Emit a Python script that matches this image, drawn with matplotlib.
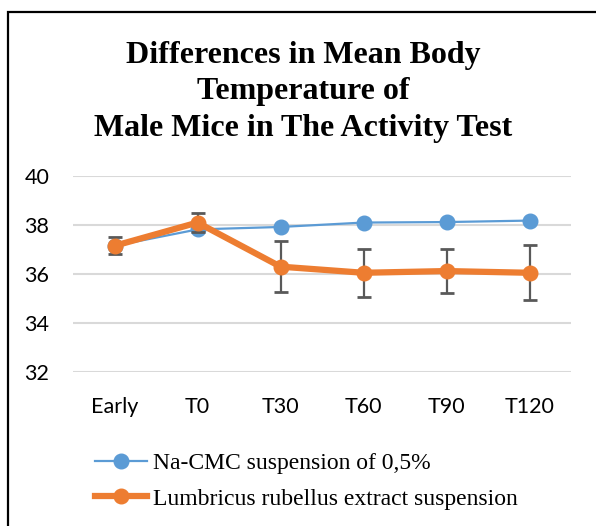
import matplotlib
matplotlib.use("Agg")
import matplotlib.pyplot as plt
from matplotlib.patches import Rectangle
from matplotlib.lines import Line2D

# ===================================== Data
time_points = ["Early", "T0", "T30", "T60", "T90", "T120"]
cmc_mean = [37.15, 37.82, 37.92, 38.10, 38.12, 38.18]
extract_mean = [37.15, 38.10, 36.30, 36.05, 36.12, 36.05]
extract_err = [0.35, 0.38, 1.05, 0.98, 0.88, 1.12]
y_ticks = [32, 34, 36, 38, 40]

cmc_label = "Na-CMC suspension of 0,5%"
extract_label = "Lumbricus rubellus extract suspension"
title = "Differences in Mean Body\nTemperature of\nMale Mice in The Activity Test"

blue = "#5B9BD5"
orange = "#ED7D31"

# ===================================== Plot
W, H = 596, 526
fig = plt.figure(figsize=(W / 100, H / 100), dpi=100)
ax = fig.add_axes([73 / W, 1 - 372 / H, (571 - 73) / W, (372 - 176) / H])

x = list(range(len(time_points)))

ax.plot(x, cmc_mean, color=blue, lw=1.6, marker="o", ms=10.5,
        markerfacecolor=blue, markeredgecolor=blue, zorder=3)
ax.errorbar(x, extract_mean, yerr=extract_err, fmt="none", ecolor="#595959",
            elinewidth=1.6, capsize=5, capthick=2, zorder=4)
ax.plot(x, extract_mean, color=orange, lw=4.5, marker="o", ms=10.5,
        markerfacecolor=orange, markeredgecolor=orange, zorder=5)

ax.set_xlim(-0.5, len(time_points) - 0.5)
ax.set_ylim(32, 40)
ax.set_yticks(y_ticks)
ax.set_xticks(x)
ax.set_xticklabels(time_points)
ax.tick_params(axis="both", length=0, labelsize=15.5, labelcolor="#000000")
ax.tick_params(axis="x", pad=18)
ax.tick_params(axis="y", pad=17)
for lab in ax.get_xticklabels() + ax.get_yticklabels():
    lab.set_family("Lato")
ax.grid(axis="y", color="#D9D9D9", lw=1.5)
ax.set_axisbelow(True)
for s in ax.spines.values():
    s.set_visible(False)

fig.text(303 / W, 1 - 92 / H, title, ha="center", va="center",
         family="Liberation Serif", weight="bold", fontsize=23,
         linespacing=1.34)

handles = [
    Line2D([], [], color=blue, lw=1.6, marker="o", ms=10.5),
    Line2D([], [], color=orange, lw=4.5, marker="o", ms=10.5),
]
fig.legend(handles, [cmc_label, extract_label], loc="center left",
           bbox_to_anchor=(95 / W, 1 - 481 / H), frameon=False,
           borderpad=0, borderaxespad=0,
           prop={"family": "Liberation Serif", "size": 17},
           handlelength=2.2, handletextpad=0.25, labelspacing=0.6)

fig.patches.append(Rectangle((8 / W, -0.1), 1.2, 1 - 12 / H + 0.1,
                             transform=fig.transFigure, fill=False,
                             edgecolor="black", lw=1.6))

fig.savefig("out.png", dpi=100)
